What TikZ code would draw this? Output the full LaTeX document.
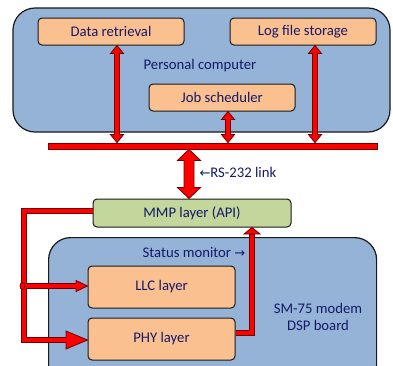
\documentclass[tikz,border=0pt]{standalone}
\usepackage{fontspec}
\setmainfont{Carlito}
\newfontfamily\symfont{DejaVu Sans}
\newcommand\arrowglyph{\symfont\fontsize{13}{15}\selectfont}
\usetikzlibrary{calc}
\definecolor{pcblue}{RGB}{149,179,215}
\definecolor{orangebox}{RGB}{250,192,144}
\definecolor{greenbox}{RGB}{195,214,155}
\definecolor{navytext}{RGB}{20,25,105}
\definecolor{arrowred}{RGB}{255,0,0}
\definecolor{arrowedge}{RGB}{110,0,0}
\newcommand\vdouble[5]{%
  \path[redshape] let \p1=#1, \p2=#2 in
    (\x1,\y1) -- (\x1+#4,\y1-#5) -- (\x1+#3,\y1-#5) -- (\x1+#3,\y2+#5)
    -- (\x1+#4,\y2+#5) -- (\x1,\y2) -- (\x1-#4,\y2+#5) -- (\x1-#3,\y2+#5)
    -- (\x1-#3,\y1-#5) -- (\x1-#4,\y1-#5) -- cycle;}
\tikzset{
  txt/.style={font=\fontsize{14.7}{17}\selectfont, text=navytext},
  bigbox/.style={draw=black!90, line width=1.2pt, fill=pcblue, rounded corners=22pt},
  subbox/.style={draw=black!90, line width=1pt, fill=orangebox, rounded corners=4pt,
    inner sep=0pt, txt},
  apibox/.style={draw=black!90, line width=1pt, fill=greenbox, rounded corners=4pt,
    inner sep=0pt, txt},
  redshape/.style={fill=arrowred, draw=arrowedge, line width=0.8pt, line join=miter},
  redline/.style={draw=arrowedge, line width=6.4pt, line join=miter},
  redcore/.style={draw=arrowred, line width=4.8pt, line join=miter},
}
\begin{document}
\begin{tikzpicture}[x=1pt,y=-1pt]
\useasboundingbox (0,0) rectangle (393,365);
\clip (0,0) rectangle (393,365);
% Personal computer
\node[bigbox, minimum width=377pt, minimum height=124pt] (pc) at (201.5,70) {};
\node[txt] (pclabel) at (200,66) {Personal computer};
\node[subbox, minimum width=146pt, minimum height=27pt] (dr) at (111,31.5) {Data retrieval};
\node[subbox, minimum width=146pt, minimum height=27pt] (lf) at (303,31.5) {Log file storage};
\node[subbox, minimum width=146pt, minimum height=27pt] (js) at (222,97.5) {Job scheduler};
% bus
\node[redshape, inner sep=0pt, minimum width=329pt, minimum height=6pt] (bus) at (212.5,146) {};
\coordinate (a1) at ([xshift=6pt]dr.south);
\coordinate (a2) at ([xshift=12pt]lf.south);
\coordinate (a3) at ([xshift=6pt]js.south);
\vdouble{(a1)}{(a1 |- bus.north)}{2.5pt}{6.5pt}{8pt}
\vdouble{(a2)}{(a2 |- bus.north)}{2.5pt}{6.5pt}{8pt}
\vdouble{(a3)}{(a3 |- bus.north)}{2.5pt}{6.5pt}{8pt}
% modem board
\node[bigbox, minimum width=328pt, minimum height=150pt, anchor=north west] (modem) at (48,237) {};
\node[txt, align=center, font=\fontsize{14.7}{17.5}\selectfont] (sm) at (318,317) {SM-75 modem\\DSP board};
\node[txt] (status) at (194,252) {Status monitor {\arrowglyph →}};
\node[subbox, minimum width=147pt, minimum height=42pt] (llc) at (161.5,287) {LLC layer};
\node[subbox, minimum width=147pt, minimum height=42pt] (phy) at (161.5,339) {PHY layer};
% MMP
\node[apibox, minimum width=198pt, minimum height=28pt] (mmp) at (192,213) {MMP layer (API)};
% RS-232 link
\coordinate (r1) at (bus.south -| 189,0);
\vdouble{(r1)}{(r1 |- mmp.north)}{5pt}{11.5pt}{11pt}
\node[txt, anchor=west] (rs) at (196,172) {{\arrowglyph ←}RS-232 link};
% loop from MMP to LLC / PHY
\coordinate (lt) at (24,211);
\coordinate (lb) at (24,340);
\coordinate (ph) at (66,340);
\coordinate (lj) at (24,286);
\coordinate (lh) at (76,286);
\draw[redline] (mmp.west |- lt) -- (lt) -- (lb) -- (ph);
\draw[draw=arrowedge, line width=5.4pt] (lj) -- (lh);
\path[redshape] (ph |- 0,331) -- (phy.west |- lb) -- (ph |- 0,349) -- cycle;
\path[redshape] (lh |- 0,280.5) -- (llc.west |- lj) -- (lh |- 0,291.5) -- cycle;
\draw[redcore] (mmp.west |- lt) -- (lt) -- (lb) -- ([xshift=1pt]ph);
\draw[draw=arrowred, line width=3.8pt] (lj) -- ([xshift=1pt]lh);
\path[redshape] (22.5,286) ellipse (2.5pt and 3.5pt);
% return from PHY to MMP
\coordinate (rc) at (252,333);
\coordinate (rh) at (252,234);
\draw[draw=arrowedge, line width=5.8pt] (phy.east |- rc) -- (rc) -- (rh);
\path[redshape] ([xshift=-8pt]rh) -- (rh |- mmp.south) -- ([xshift=8pt]rh) -- cycle;
\draw[draw=arrowred, line width=4.2pt] (phy.east |- rc) -- (rc) -- ([yshift=-1pt]rh);
\end{tikzpicture}
\end{document}
